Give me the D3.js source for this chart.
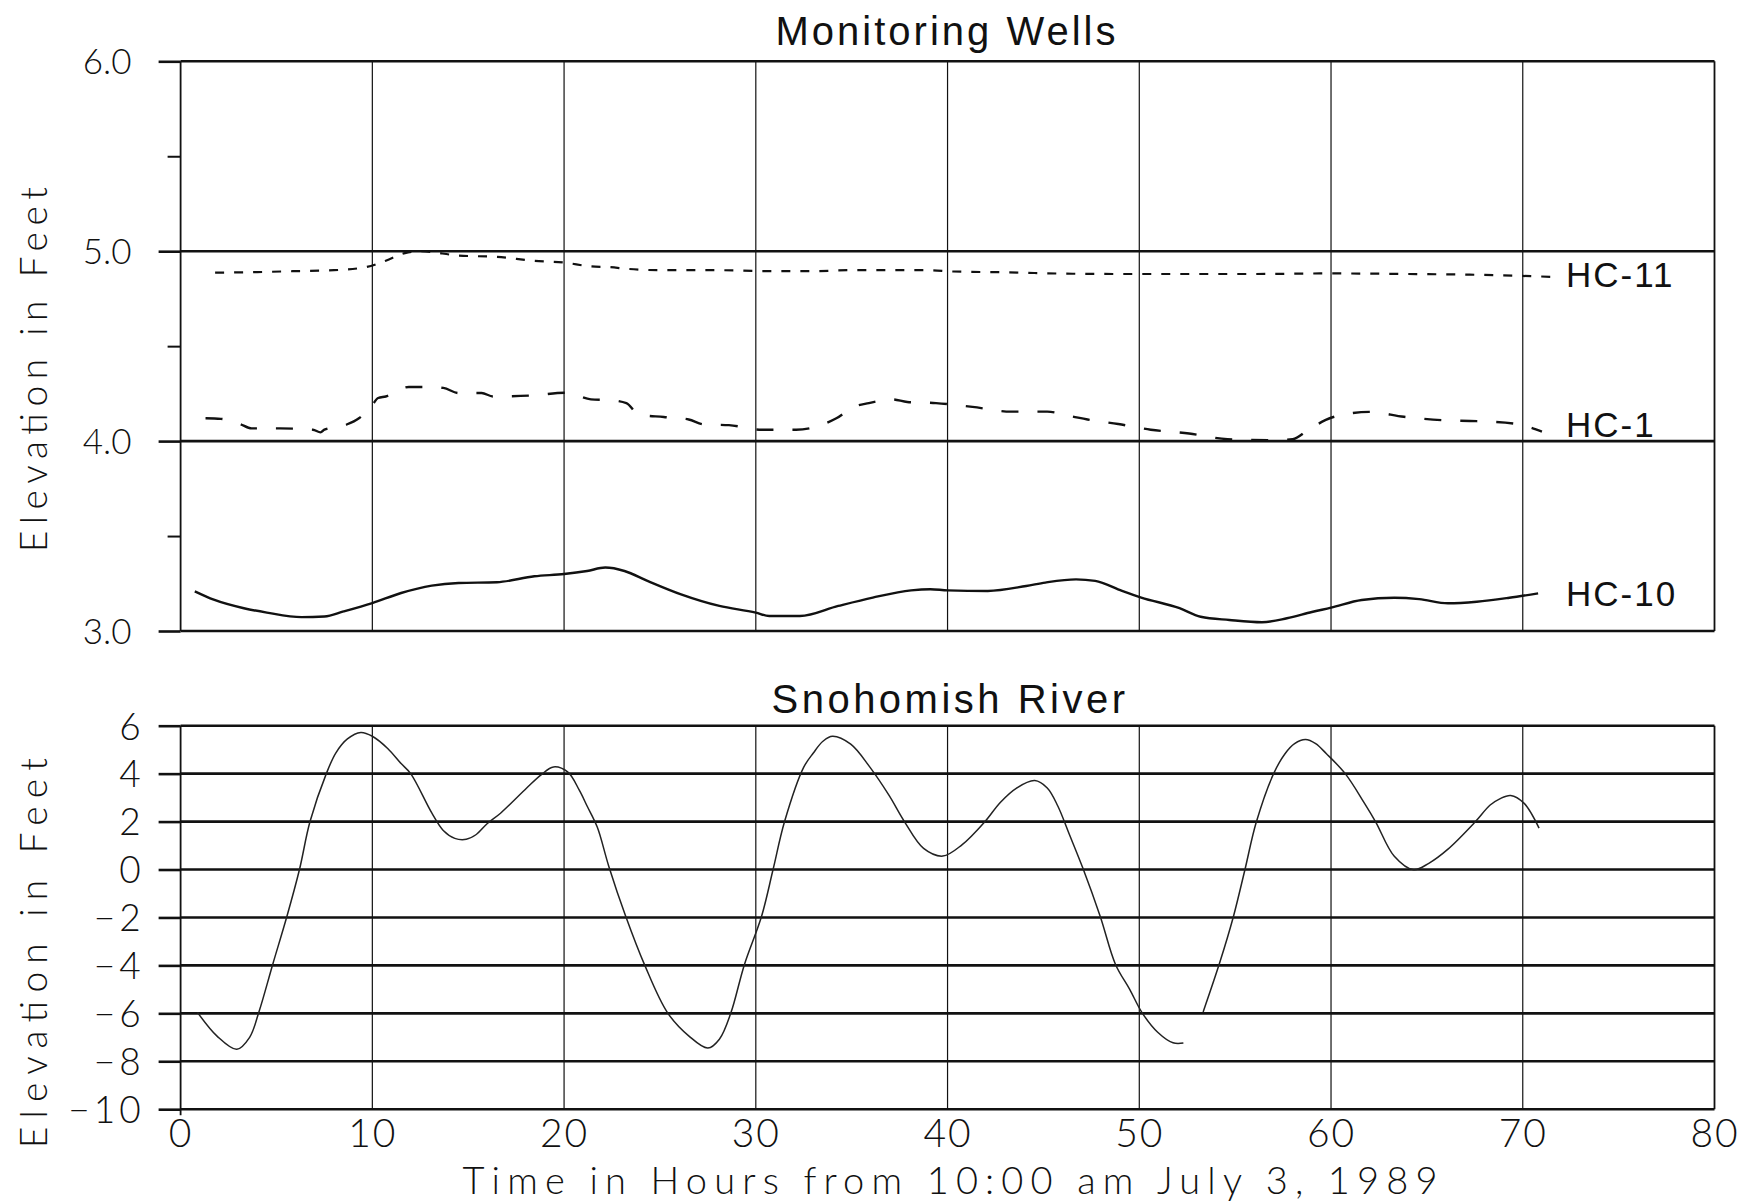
<!DOCTYPE html>
<html>
<head>
<meta charset="utf-8">
<script src="https://cdn.jsdelivr.net/npm/d3@7"></script>
<style>
  html, body { margin: 0; padding: 0; background: #fff; }
  svg { display: block; }
  .thin { font-family: 'DejaVu Sans ExtraLight', 'Lato', 'Open Sans', sans-serif; font-weight: 300; fill: #111; }
  .reg { font-family: 'Liberation Sans', Arial, sans-serif; fill: #111; }
</style>
</head>
<body>
<svg id="chart" width="1748" height="1204"></svg>
<script>
// ---------- data ----------
const xTicks = [0, 10, 20, 30, 40, 50, 60, 70, 80];
const wellTicks = [3.0, 4.0, 5.0, 6.0];
const wellMinorTicks = [3.5, 4.5, 5.5];
const riverTicks = [-10, -8, -6, -4, -2, 0, 2, 4, 6];

const hc11Hours = [1.8, 4, 6, 8, 9.7, 10.7, 11.7, 12.5, 14.5, 16.5, 18.4, 20.0, 21.4, 22.4, 23.3, 25, 28, 30.5, 33, 35, 39, 40.3, 43, 46, 49, 52, 56, 60, 64, 68, 71.5];
const hc11Elev  = [4.887, 4.89, 4.895, 4.90, 4.917, 4.95, 4.99, 5.0, 4.977, 4.97, 4.95, 4.94, 4.92, 4.916, 4.907, 4.90, 4.90, 4.895, 4.895, 4.90, 4.90, 4.893, 4.889, 4.882, 4.88, 4.88, 4.88, 4.883, 4.88, 4.875, 4.865];

const hc1Hours = [1.3, 2.1, 3.1, 3.7, 5.2, 6.9, 7.3, 7.5, 8.6, 9.3, 10.0, 10.3, 10.7, 11.9, 12.7, 13.7, 14.5, 15.7, 16.3, 18.3, 20.1, 21.4, 22.4, 23.25, 23.9, 25.2, 26.5, 27.3, 28.6, 30.3, 32.1, 33.5, 34.2, 35.1, 35.9, 37.1, 37.9, 39.4, 41.3, 43.3, 45.2, 46.5, 47.3, 48.9, 50.6, 52.6, 54.6, 57.0, 58.0, 58.8, 59.7, 60.0, 62.0, 63.8, 65.8, 67.6, 69.5, 71.0];
const hc1Elev  = [4.12, 4.117, 4.09, 4.067, 4.067, 4.06, 4.046, 4.06, 4.085, 4.12, 4.19, 4.227, 4.235, 4.285, 4.285, 4.28, 4.253, 4.253, 4.235, 4.24, 4.255, 4.22, 4.216, 4.20, 4.14, 4.127, 4.114, 4.088, 4.084, 4.06, 4.06, 4.088, 4.12, 4.18, 4.20, 4.22, 4.206, 4.20, 4.18, 4.155, 4.155, 4.13, 4.114, 4.09, 4.06, 4.04, 4.01, 4.005, 4.01, 4.058, 4.11, 4.123, 4.154, 4.128, 4.11, 4.105, 4.093, 4.05];

const hc10Hours = [0.74, 1.73, 3.3, 4.5, 6.3, 7.5, 8.5, 10.0, 11.5, 13.1, 14.5, 16.5, 18.45, 20.0, 21.2, 22.15, 23.15, 24.35, 26.1, 28.1, 30.0, 30.7, 32.3, 34.3, 36.1, 38.1, 39.1, 40.0, 42.1, 44.1, 45.1, 46.7, 47.7, 49.1, 50.1, 52.1, 53.2, 54.7, 56.4, 57.7, 59.0, 60.0, 61.6, 63.3, 64.6, 66.1, 67.6, 69.3, 70.8];
const hc10Elev  = [3.209, 3.165, 3.12, 3.097, 3.073, 3.076, 3.103, 3.147, 3.2, 3.239, 3.253, 3.257, 3.288, 3.30, 3.316, 3.334, 3.316, 3.264, 3.193, 3.132, 3.097, 3.079, 3.079, 3.132, 3.176, 3.214, 3.22, 3.214, 3.211, 3.237, 3.255, 3.272, 3.264, 3.211, 3.176, 3.12, 3.075, 3.058, 3.046, 3.067, 3.10, 3.123, 3.163, 3.175, 3.168, 3.146, 3.154, 3.175, 3.198];

// null marks the gap in the river record
const riverHours = [0.88, 1.9, 2.93, 3.6, 4.1, 4.8, 5.55, 6.2, 6.75, 7.6, 8.1, 8.7, 9.4, 10.0, 10.8, 11.5, 12.0, 13.1, 13.7, 14.3, 14.9, 15.4, 16.0, 16.7, 18.05, 18.8, 19.45, 20.2, 20.8, 21.2, 21.73, 22.33, 23.2, 24.2, 25.4, 26.5, 27.5, 28.1, 28.7, 29.4, 30.3, 30.9, 31.5, 32.5, 33.0, 33.5, 34.0, 34.95, 35.95, 36.95, 37.75, 38.75, 39.75, 40.75, 41.95, 42.75, 43.6, 44.55, 45.2, 45.75, 46.35, 47.05, 47.96, 48.76, 49.5, 50.15, 50.96, 51.76, 52.3, 52.8, 53.33, 54.2, 54.9, 55.5, 56.1, 57.0, 57.6, 58.1, 58.67, 59.2, 59.76, 60.75, 61.74, 62.34, 63.3, 64.3, 65.1, 66.1, 67.5, 68.3, 68.8, 69.37, 70.06, 70.85];
const riverElev  = [-5.96, -6.95, -7.5, -7.0, -5.9, -3.97, -1.94, 0.0, 2.0, 4.0, 4.87, 5.45, 5.72, 5.56, 5.05, 4.42, 4.0, 2.36, 1.63, 1.3, 1.26, 1.45, 1.92, 2.36, 3.4, 3.95, 4.28, 4.06, 3.3, 2.65, 1.77, 0.14, -1.92, -3.98, -5.98, -6.94, -7.45, -7.08, -5.98, -3.98, -1.95, 0.0, 2.0, 4.27, 4.86, 5.35, 5.56, 5.23, 4.27, 3.09, 2.0, 0.88, 0.56, 1.03, 2.0, 2.8, 3.4, 3.71, 3.4, 2.65, 1.47, 0.07, -1.95, -3.96, -5.0, -5.98, -6.79, -7.23, -7.24, null, -5.94, -3.87, -1.99, -0.04, 1.97, 3.99, 4.83, 5.25, 5.42, 5.25, 4.83, 3.99, 2.77, 1.97, 0.55, -0.01, 0.26, 0.85, 1.97, 2.69, 2.95, 3.09, 2.77, 1.73];

const wellSeries = [
  { name: "HC-11", hours: hc11Hours, elev: hc11Elev, dash: "9,10", width: 2.2 },
  { name: "HC-1",  hours: hc1Hours,  elev: hc1Elev,  dash: "17,19", width: 2.4 },
  { name: "HC-10", hours: hc10Hours, elev: hc10Elev, dash: null, width: 2.4 }
];
const labelElev = { "HC-11": 4.88, "HC-1": 4.09, "HC-10": 3.2 };

// ---------- layout ----------
const svg = d3.select("#chart");
svg.append("rect").attr("width", 1748).attr("height", 1204).attr("fill", "#fff");

const x = d3.scaleLinear().domain([0, 80]).range([180.6, 1714.5]);
const yTop = d3.scaleLinear().domain([3, 6]).range([631, 61.3]);
const yBot = d3.scaleLinear().domain([-10, 6]).range([1109.2, 725.7]);
const ink = "#111";

// ---------- top panel ----------
const gTop = svg.append("g");
gTop.selectAll("line.v").data(xTicks.filter(d => d > 0 && d < 80)).join("line")
  .attr("x1", d => x(d)).attr("x2", d => x(d))
  .attr("y1", yTop(6)).attr("y2", yTop(3))
  .attr("stroke", ink).attr("stroke-width", 1.2);
gTop.selectAll("line.h").data(wellTicks).join("line")
  .attr("x1", x(0)).attr("x2", x(80))
  .attr("y1", d => yTop(d)).attr("y2", d => yTop(d))
  .attr("stroke", ink).attr("stroke-width", 2.6);
gTop.append("line").attr("x1", x(0)).attr("x2", x(0)).attr("y1", yTop(6)).attr("y2", yTop(3)).attr("stroke", ink).attr("stroke-width", 1.8);
gTop.append("line").attr("x1", x(80)).attr("x2", x(80)).attr("y1", yTop(6)).attr("y2", yTop(3)).attr("stroke", ink).attr("stroke-width", 1.8);

const axTop = gTop.append("g").attr("transform", `translate(${x(0)},0)`)
  .call(d3.axisLeft(yTop).tickValues(wellTicks).tickFormat(d3.format(".1f")).tickSize(22).tickPadding(27));
axTop.select(".domain").remove();
axTop.selectAll("line").attr("stroke", ink).attr("stroke-width", 2.6);
axTop.selectAll("text").attr("class", "thin").attr("font-size", 35).attr("dy", "0.36em");
const axTopMinor = gTop.append("g").attr("transform", `translate(${x(0)},0)`)
  .call(d3.axisLeft(yTop).tickValues(wellMinorTicks).tickFormat("").tickSize(13));
axTopMinor.select(".domain").remove();
axTopMinor.selectAll("line").attr("stroke", ink).attr("stroke-width", 2);

wellSeries.forEach(s => {
  const pts = s.hours.map((h, i) => [h, s.elev[i]]);
  const line = d3.line().x(d => x(d[0])).y(d => yTop(d[1])).curve(d3.curveMonotoneX);
  gTop.append("path").attr("d", line(pts)).attr("fill", "none")
    .attr("stroke", ink).attr("stroke-width", s.width)
    .attr("stroke-dasharray", s.dash);
  gTop.append("text").attr("class", "reg").attr("x", 1566).attr("y", yTop(labelElev[s.name]))
    .attr("dy", "0.36em").attr("font-size", 35).attr("letter-spacing", 2).text(s.name);
});

svg.append("text").attr("class", "reg").attr("x", 947).attr("y", 45)
  .attr("text-anchor", "middle").attr("font-size", 40).attr("letter-spacing", 3).text("Monitoring Wells");

svg.append("text").attr("class", "thin").attr("font-size", 37)
  .attr("transform", `translate(47,${(187 + 552) / 2}) rotate(-90)`)
  .attr("text-anchor", "middle").attr("textLength", 365).attr("lengthAdjust", "spacing")
  .text("Elevation in Feet");

// ---------- bottom panel ----------
const gBot = svg.append("g");
gBot.selectAll("line.v").data(xTicks.filter(d => d > 0 && d < 80)).join("line")
  .attr("x1", d => x(d)).attr("x2", d => x(d))
  .attr("y1", yBot(6)).attr("y2", yBot(-10))
  .attr("stroke", ink).attr("stroke-width", 1.2);
gBot.selectAll("line.h").data(riverTicks).join("line")
  .attr("x1", x(0)).attr("x2", x(80))
  .attr("y1", d => yBot(d)).attr("y2", d => yBot(d))
  .attr("stroke", ink).attr("stroke-width", 2.6);
gBot.append("line").attr("x1", x(0)).attr("x2", x(0)).attr("y1", yBot(6)).attr("y2", yBot(-10) + 6).attr("stroke", ink).attr("stroke-width", 1.8);
gBot.append("line").attr("x1", x(80)).attr("x2", x(80)).attr("y1", yBot(6)).attr("y2", yBot(-10)).attr("stroke", ink).attr("stroke-width", 1.8);

const axBot = gBot.append("g").attr("transform", `translate(${x(0)},0)`)
  .call(d3.axisLeft(yBot).tickValues(riverTicks).tickFormat(d => d < 0 ? "\u2212" + Math.abs(d) : String(d)).tickSize(22).tickPadding(14));
axBot.select(".domain").remove();
axBot.selectAll("line").attr("stroke", ink).attr("stroke-width", 2.6);
axBot.selectAll("text").attr("class", "thin").attr("font-size", 37).attr("dy", "0.36em").attr("letter-spacing", 4);

const axX = gBot.append("g").attr("transform", `translate(0,${yBot(-10)})`)
  .call(d3.axisBottom(x).tickValues(xTicks).tickSize(0).tickPadding(10));
axX.select(".domain").remove();
axX.selectAll("text").attr("class", "thin").attr("font-size", 39).attr("y", 38).attr("dy", 0).attr("letter-spacing", 2);

const river = d3.line().defined(d => d[1] !== null)
  .x(d => x(d[0])).y(d => yBot(d[1])).curve(d3.curveCatmullRom.alpha(0.5));
gBot.append("path").attr("d", river(riverHours.map((h, i) => [h, riverElev[i]])))
  .attr("fill", "none").attr("stroke", "#222").attr("stroke-width", 1.5);

svg.append("text").attr("class", "reg").attr("x", 950).attr("y", 713)
  .attr("text-anchor", "middle").attr("font-size", 40).attr("letter-spacing", 3.5).text("Snohomish River");

svg.append("text").attr("class", "thin").attr("font-size", 37)
  .attr("transform", `translate(47,${(758 + 1148) / 2}) rotate(-90)`)
  .attr("text-anchor", "middle").attr("textLength", 390).attr("lengthAdjust", "spacing")
  .text("Elevation in Feet");

svg.append("text").attr("class", "thin").attr("font-size", 38)
  .attr("x", 950).attr("y", 1194).attr("text-anchor", "middle")
  .attr("textLength", 975).attr("lengthAdjust", "spacing")
  .text("Time in Hours from 10:00 am July 3, 1989");
</script>
</body>
</html>
